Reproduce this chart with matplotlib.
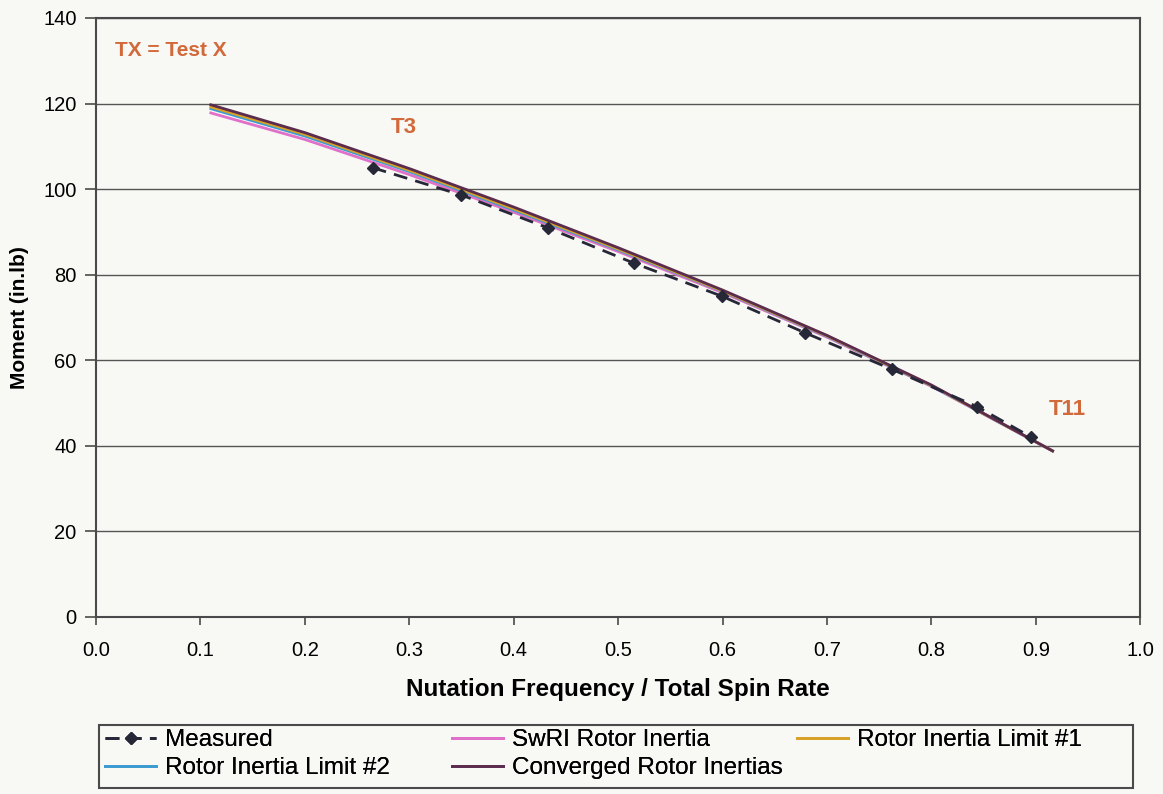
import matplotlib.pyplot as plt
from matplotlib.patches import Rectangle

plt.rcParams['font.family'] = ['Liberation Sans', 'DejaVu Sans']

# Measured test points
measured_x = [0.265, 0.350, 0.433, 0.515, 0.599, 0.679, 0.762, 0.844, 0.895]
measured_y = [105.0, 98.6, 90.9, 82.7, 75.0, 66.4, 57.9, 49.1, 42.1]

# Model curves
curve_x = [0.110, 0.200, 0.300, 0.400, 0.500, 0.600, 0.700, 0.800, 0.916]
swri_y = [117.8, 111.6, 103.4, 94.6, 85.4, 75.8, 65.4, 53.9, 38.8]
limit1_y = [119.2, 112.8, 104.4, 95.4, 86.0, 76.2, 65.7, 54.1, 38.8]
limit2_y = [118.8, 112.4, 104.1, 95.1, 85.8, 76.1, 65.6, 54.0, 38.8]
converged_y = [119.7, 113.2, 104.8, 95.8, 86.3, 76.4, 65.8, 54.2, 38.8]

x_ticks = [0.0, 0.1, 0.2, 0.3, 0.4, 0.5, 0.6, 0.7, 0.8, 0.9, 1.0]
y_ticks = [0, 20, 40, 60, 80, 100, 120, 140]

bg = '#f8f8f5'
note_color = '#d2693a'
frame_color = '#4a4a4a'

figure = plt.figure(figsize=(11.63, 7.94), dpi=100, facecolor=bg)
axe = figure.add_axes([0.0825, 0.223, 0.898, 0.7544], facecolor=bg)

swri, = axe.plot(curve_x, swri_y, color='#e070c8', lw=2, zorder=3)
limit1, = axe.plot(curve_x, limit1_y, color='#d8a228', lw=2, zorder=4)
limit2, = axe.plot(curve_x, limit2_y, color='#3d9bd2', lw=2, zorder=3)
converged, = axe.plot(curve_x, converged_y, color='#5c2c4e', lw=2, zorder=5)
measured, = axe.plot(measured_x, measured_y, color='#262838', lw=2, ls=(0, (5, 3)),
                     marker='D', markersize=6, zorder=6)

axe.set_xlim(0, 1.0)
axe.set_ylim(0, 140)
axe.set_xticks(x_ticks)
axe.set_xticklabels([f"{t:.1f}" for t in x_ticks])
axe.set_yticks(y_ticks)
axe.tick_params(axis='x', labelsize=14.5, length=6, width=1.2, color=frame_color, pad=11)
axe.tick_params(axis='y', labelsize=14.5, length=8, width=1.2, color=frame_color, pad=6)
axe.yaxis.grid(True, color='#555555', lw=1)
axe.set_axisbelow(True)
for spine in axe.spines.values():
    spine.set_color(frame_color)
    spine.set_linewidth(1.5)

axe.set_xlabel('Nutation Frequency / Total Spin Rate', fontsize=17.5, fontweight='bold', labelpad=13)
axe.set_ylabel('Moment (in.lb)', fontsize=15, fontweight='bold', labelpad=10)

axe.text(0.018, 132.5, 'TX = Test X', color=note_color, fontsize=15, fontweight='bold', va='center')
axe.text(0.282, 114.5, 'T3', color=note_color, fontsize=16, fontweight='bold', va='center')
axe.text(0.912, 48.4, 'T11', color=note_color, fontsize=16, fontweight='bold', va='center')

# legend box below the plot, entries laid out in three columns
figure.patches.append(Rectangle((99 / 1163, 6 / 794), 1034 / 1163, 63 / 794,
                                transform=figure.transFigure, fill=False,
                                edgecolor=frame_color, lw=1.5))
legend_columns = [
    (105, [measured, limit2], ['Measured', 'Rotor Inertia Limit #2']),
    (452, [swri, converged], ['SwRI Rotor Inertia', 'Converged Rotor Inertias']),
    (797, [limit1], ['Rotor Inertia Limit #1']),
]
for x_px, handles, labels in legend_columns:
    legend = figure.legend(handles, labels, loc='upper left',
                           bbox_to_anchor=(x_px / 1163, (794 - 729) / 794),
                           frameon=False, fontsize=17.5, handlelength=2.1,
                           handletextpad=0.35, borderpad=0, borderaxespad=0,
                           labelspacing=0.25, numpoints=1)
    figure.add_artist(legend)

figure.savefig('out.png', dpi=100, facecolor=bg)
